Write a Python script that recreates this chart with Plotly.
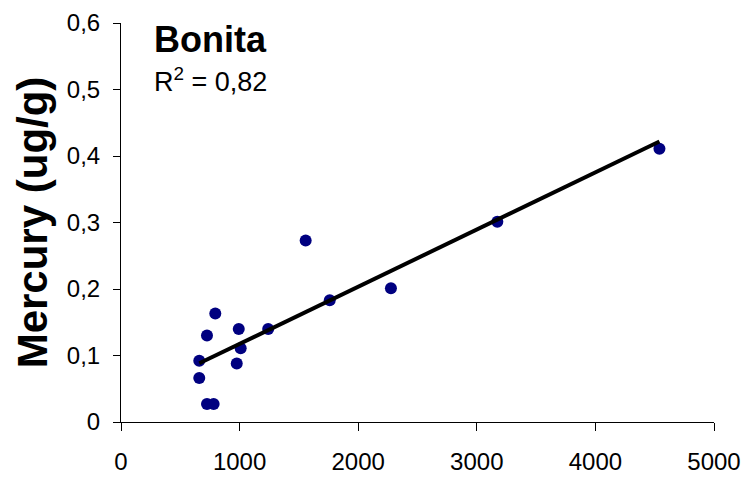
import numpy as np
import plotly.graph_objects as go

# Data
length_x = [660, 660, 725, 725, 781, 795, 976, 993, 1009, 1241, 1557, 1760, 2276, 3173, 4540]
mercury_y = [0.092, 0.066, 0.130, 0.027, 0.027, 0.163, 0.088, 0.140, 0.111, 0.140, 0.273, 0.183, 0.201, 0.301, 0.411]
x_ticks = [0, 1000, 2000, 3000, 4000, 5000]
y_ticks = [0, 0.1, 0.2, 0.3, 0.4, 0.5, 0.6]
species = "Bonita"
r2_label = "R<sup>2</sup> = 0,82"

# Linear trendline computed from the data
slope, intercept = np.polyfit(length_x, mercury_y, 1)
trend_x = [min(length_x), max(length_x)]
trend_y = [slope * v + intercept for v in trend_x]

FONT = "Liberation Sans, Arial, sans-serif"

fig = go.Figure()
fig.add_trace(go.Scatter(
    x=length_x, y=mercury_y, mode="markers",
    marker=dict(color="#000080", size=12, line=dict(width=0)),
    showlegend=False, hoverinfo="x+y",
))
fig.add_trace(go.Scatter(
    x=trend_x, y=trend_y, mode="lines",
    line=dict(color="black", width=4),
    showlegend=False, hoverinfo="skip",
))

fig.update_layout(
    width=750, height=482,
    margin=dict(l=121, r=36, t=23, b=60),
    paper_bgcolor="white", plot_bgcolor="white",
    separators=",.",
    font=dict(family=FONT, color="black", size=24),
    xaxis=dict(
        range=[0, 5000], tickvals=x_ticks, showgrid=False, zeroline=False,
        showline=True, linecolor="black", linewidth=1, automargin=False,
        ticks="outside", ticklen=8, tickcolor="black", tickwidth=1,
        tickfont=dict(size=24), ticklabelstandoff=10,
    ),
    yaxis=dict(
        range=[0, 0.6], tickvals=y_ticks, showgrid=False, zeroline=False,
        showline=True, linecolor="black", linewidth=1, automargin=False,
        ticks="outside", ticklen=7, tickcolor="black", tickwidth=1,
        tickfont=dict(size=24), ticklabelstandoff=8,
        title=dict(text="<b>Mercury (ug/g)</b>", font=dict(size=42), standoff=6),
    ),
    annotations=[
        dict(text="<b>" + species + "</b>", xref="paper", yref="paper",
             x=(152 - 121) / 593, y=(422.3 - 40) / 399, xanchor="left", yanchor="middle",
             showarrow=False, font=dict(size=36, family=FONT)),
        dict(text=r2_label, xref="paper", yref="paper",
             x=(152 - 121) / 593, y=(422.3 - 80) / 399, xanchor="left", yanchor="middle",
             showarrow=False, font=dict(size=27, family=FONT)),
    ],
)

fig.write_html("out.html")
